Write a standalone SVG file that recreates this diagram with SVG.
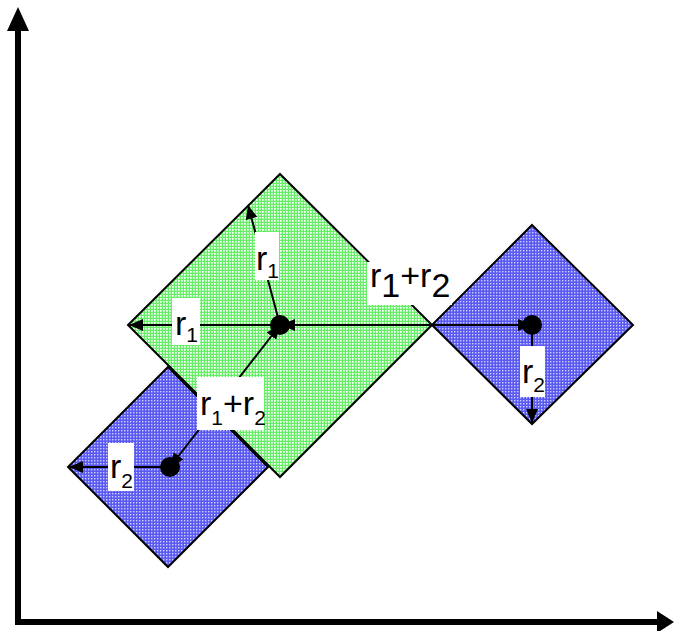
<svg xmlns="http://www.w3.org/2000/svg" width="674" height="631" viewBox="0 0 674 631">
  <defs>
    <pattern id="pg" width="3" height="3" patternUnits="userSpaceOnUse">
      <rect width="3" height="3" fill="#66ee66"/>
      <rect x="1" y="1" width="1.7" height="1.7" fill="#ffffff"/>
    </pattern>
    <pattern id="pb" width="3" height="3" patternUnits="userSpaceOnUse">
      <rect width="3" height="3" fill="#5a5af2"/>
      <rect x="1" y="1" width="1.4" height="1.4" fill="#d0d0ff"/>
    </pattern>
    <marker id="ah" viewBox="0 0 14 12" refX="14" refY="6" markerWidth="14" markerHeight="12" markerUnits="userSpaceOnUse" orient="auto-start-reverse">
      <path d="M0,0 L14,6 L0,12 Z" fill="#000"/>
    </marker>
  </defs>
  <style>
    .dia{stroke:#000;stroke-width:2}
    .con{stroke:#000;stroke-width:2;fill:none;marker-end:url(#ah)}
    .dot{fill:#000}
    .box{fill:#fff}
    .t{font-family:"Liberation Sans",Arial,sans-serif;fill:#000}
    .big{font-size:34px}
    .sub{font-size:21px}
    .lg{font-size:34px}
  </style>

  <g id="axes">
    <line x1="18" y1="28" x2="18" y2="625" stroke="#000" stroke-width="6"/>
    <polygon points="7,31 29,31 18,7" fill="#000"/>
    <line x1="15" y1="622" x2="658" y2="622" stroke="#000" stroke-width="6"/>
    <polygon points="657,611 657,633 674,622" fill="#000"/>
  </g>

  <g id="node-blue-left">
    <polygon class="dia" points="168,367 268,467 168,567 68,467" fill="url(#pb)"/>
  </g>
  <g id="node-green">
    <polygon class="dia" points="280,174 432,325 280,477 128,325" fill="url(#pg)"/>
  </g>
  <g id="node-blue-right">
    <polygon class="dia" points="532,225 633,325 532,424 432,325" fill="url(#pb)"/>
  </g>

  <g id="connectors">
    <line class="con" x1="280" y1="325" x2="129" y2="325"/>
    <line class="con" x1="280" y1="325" x2="248" y2="205"/>
    <line class="con" x1="432" y1="325" x2="281" y2="325"/>
    <line class="con" x1="432" y1="325" x2="532" y2="325"/>
    <line class="con" x1="532" y1="325" x2="532" y2="423"/>
    <line class="con" x1="170" y1="467" x2="69" y2="467"/>
    <line class="con" x1="170" y1="467" x2="280" y2="325" style="marker-start:url(#ah)"/>
  </g>

  <g id="dots">
    <circle class="dot" cx="280" cy="325" r="10"/>
    <circle class="dot" cx="532" cy="325" r="10"/>
    <circle class="dot" cx="170" cy="467" r="10"/>
  </g>

  <g id="labels">
    <rect class="box" x="172" y="298" width="28" height="47"/>
    <text class="t" x="175" y="335"><tspan class="big">r</tspan><tspan class="sub" dy="7">1</tspan></text>

    <rect class="box" x="255" y="232" width="24" height="48"/>
    <text class="t" x="256" y="270"><tspan class="big">r</tspan><tspan class="sub" dy="8">1</tspan></text>

    <rect class="box" x="367" y="262" width="85" height="43"/>
    <text class="t lg" x="370" y="287"><tspan>r</tspan><tspan dy="10">1</tspan><tspan dy="-10">+r</tspan><tspan dy="10">2</tspan></text>

    <rect class="box" x="197" y="377" width="67" height="53"/>
    <text class="t" x="200" y="415"><tspan class="big">r</tspan><tspan class="sub" dy="10">1</tspan><tspan class="big" dy="-10">+r</tspan><tspan class="sub" dy="10">2</tspan></text>

    <rect class="box" x="108" y="443" width="26" height="48"/>
    <text class="t" x="110" y="478"><tspan class="big">r</tspan><tspan class="sub" dy="10">2</tspan></text>

    <rect class="box" x="520" y="346" width="25" height="51"/>
    <text class="t" x="522" y="383"><tspan class="big">r</tspan><tspan class="sub" dy="9">2</tspan></text>
  </g>
</svg>
